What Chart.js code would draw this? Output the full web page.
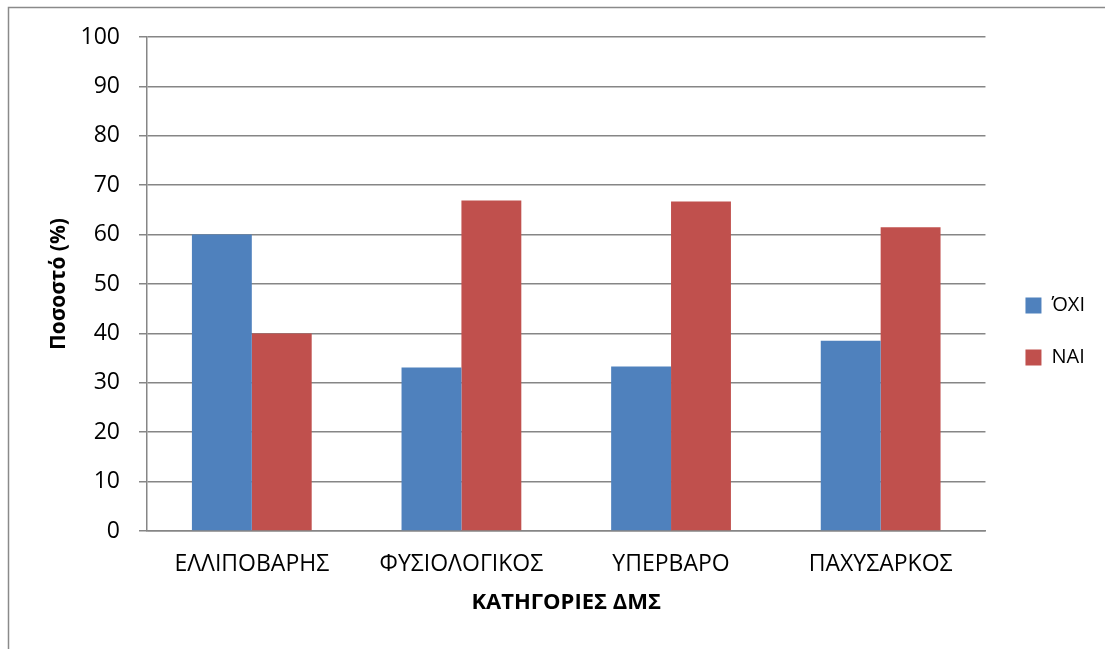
<!DOCTYPE html>
<html lang="el">
<head>
<meta charset="utf-8">
<title>Κατηγορίες ΔΜΣ</title>
<script src="https://cdn.jsdelivr.net/npm/chart.js@4.4.1/dist/chart.umd.min.js"></script>
<style>
  html, body { margin: 0; padding: 0; background: #ffffff; }
  #wrap { width: 1105px; height: 649px; }
</style>
</head>
<body>
<div id="wrap"><canvas id="bmi" width="1105" height="649"></canvas></div>
<script>
// Categories on the x axis
const categories = ['ΕΛΛΙΠΟΒΑΡΗΣ', 'ΦΥΣΙΟΛΟΓΙΚΟΣ', 'ΥΠΕΡΒΑΡΟ', 'ΠΑΧΥΣΑΡΚΟΣ'];
// Percentages per answer
const oxiValues = [60, 33.1, 33.3, 38.5];
const naiValues = [40, 66.9, 66.7, 61.5];
// Series names
const seriesNames = ['ΌΧΙ', 'ΝΑΙ'];
// Y axis range
const yTicks = { min: 0, max: 100, step: 10 };

const FONT = "'Open Sans', 'Noto Sans', 'DejaVu Sans', sans-serif";
const GRID = '#868686';

// Outer frame of the chart object (top and left edges)
const framePlugin = {
  id: 'frame',
  beforeDraw(chart) {
    const ctx = chart.ctx;
    ctx.save();
    ctx.strokeStyle = '#8a8a8a';
    ctx.lineWidth = 1.5;
    ctx.beginPath();
    ctx.moveTo(8.5, chart.height);
    ctx.lineTo(8.5, 7.5);
    ctx.lineTo(chart.width, 7.5);
    ctx.stroke();
    ctx.restore();
  }
};

// Nudge the legend block a little to the right of the plot
const legendNudge = {
  id: 'legendNudge',
  afterLayout(chart) {
    const lg = chart.legend;
    if (!lg) return;
    lg.left += 8; lg.right += 8;
    lg.top += 3; lg.bottom += 3;
  }
};

new Chart(document.getElementById('bmi'), {
  type: 'bar',
  data: {
    labels: categories,
    datasets: [
      { label: seriesNames[0], data: oxiValues, backgroundColor: '#4f81bd', borderWidth: 0 },
      { label: seriesNames[1], data: naiValues, backgroundColor: '#c0504d', borderWidth: 0 }
    ]
  },
  options: {
    responsive: false,
    devicePixelRatio: 1,
    animation: false,
    layout: { padding: { left: 42, top: 37, bottom: 29, right: 18 } },
    datasets: { bar: { categoryPercentage: 120 / 210, barPercentage: 1 } },
    plugins: {
      tooltip: { enabled: false },
      legend: {
        position: 'right',
        align: 'center',
        labels: {
          boxWidth: 16,
          boxHeight: 16,
          padding: 32,
          color: '#000000',
          font: { family: FONT, size: 20 }
        }
      }
    },
    scales: {
      x: {
        grid: { display: false, drawTicks: false },
        border: { display: true, color: GRID, width: 1.5 },
        ticks: { color: '#000000', padding: 20, maxRotation: 0, autoSkip: false, font: { family: FONT, size: 23 } },
        title: { display: true, text: 'ΚΑΤΗΓΟΡΙΕΣ ΔΜΣ', color: '#000000', padding: { top: 4, bottom: 4 }, font: { family: FONT, size: 22, weight: 'bold' } },
        afterFit(scale) { scale.height = 89; }
      },
      y: {
        min: yTicks.min,
        max: yTicks.max,
        grid: { color: GRID, lineWidth: 1.5, tickLength: 8, drawTicks: true, tickColor: GRID },
        border: { display: true, color: GRID, width: 1.5 },
        ticks: { stepSize: yTicks.step, color: '#000000', padding: 19, font: { family: FONT, size: 23 } },
        title: { display: true, text: 'Ποσοστό (%)', color: '#000000', padding: { top: 4, bottom: 4 }, font: { family: FONT, size: 21, weight: 'bold' } },
        afterFit(scale) { scale.width = 105; }
      }
    }
  },
  plugins: [framePlugin, legendNudge]
});
</script>
</body>
</html>
